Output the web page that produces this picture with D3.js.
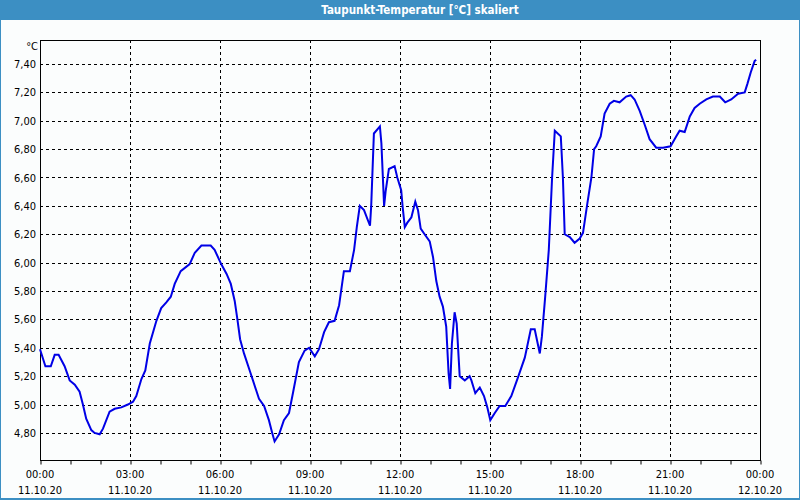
<!DOCTYPE html>
<html><head><meta charset="utf-8">
<script src="https://cdn.jsdelivr.net/npm/d3@7"></script>
<style>
html,body{margin:0;padding:0;background:#fff;}
svg{display:block;}
</style></head>
<body>
<svg id="chart" width="800" height="500"></svg>
<script>
// Hours since 11.10.20 00:00
const hours = [0.0,0.18,0.36,0.49,0.62,0.82,0.99,1.16,1.32,1.43,1.54,1.71,1.82,1.99,2.1,2.32,2.49,2.71,2.93,3.1,3.21,3.38,3.51,3.66,3.88,4.04,4.21,4.36,4.49,4.69,4.99,5.16,5.38,5.69,5.82,6.04,6.22,6.36,6.49,6.58,6.67,6.8,7.02,7.3,7.47,7.63,7.74,7.82,7.97,8.13,8.3,8.44,8.63,8.82,8.97,9.16,9.3,9.47,9.63,9.82,9.97,10.13,10.33,10.47,10.56,10.66,10.8,11.0,11.04,11.13,11.33,11.38,11.47,11.52,11.63,11.82,11.91,12.04,12.09,12.16,12.24,12.38,12.51,12.6,12.69,12.82,12.99,13.1,13.21,13.32,13.43,13.54,13.62,13.67,13.73,13.82,13.89,13.99,14.16,14.32,14.38,14.51,14.66,14.8,14.91,15.01,15.16,15.32,15.51,15.71,15.93,16.16,16.36,16.49,16.66,16.73,16.84,16.96,17.07,17.16,17.36,17.43,17.49,17.66,17.82,17.99,18.1,18.24,18.38,18.47,18.54,18.69,18.82,18.99,19.13,19.32,19.54,19.69,19.82,19.99,20.16,20.32,20.54,20.77,21.02,21.21,21.32,21.49,21.66,21.82,21.99,22.21,22.43,22.66,22.84,23.04,23.27,23.49,23.58,23.69,23.82,23.87];
const dewpoint = [5.39,5.27,5.27,5.35,5.35,5.27,5.17,5.14,5.09,5.0,4.9,4.82,4.80,4.79,4.83,4.95,4.97,4.98,5.0,5.02,5.06,5.18,5.24,5.43,5.59,5.68,5.72,5.76,5.85,5.94,5.99,6.07,6.12,6.12,6.09,5.99,5.92,5.85,5.73,5.60,5.46,5.36,5.22,5.04,4.99,4.89,4.80,4.74,4.79,4.89,4.94,5.09,5.30,5.38,5.40,5.34,5.39,5.51,5.58,5.59,5.70,5.94,5.94,6.09,6.25,6.40,6.37,6.26,6.40,6.91,6.96,6.84,6.40,6.50,6.66,6.68,6.60,6.51,6.39,6.25,6.28,6.32,6.43,6.37,6.24,6.20,6.15,6.04,5.87,5.76,5.69,5.55,5.22,5.11,5.43,5.65,5.57,5.20,5.17,5.20,5.17,5.08,5.12,5.06,4.98,4.89,4.94,4.99,4.99,5.06,5.19,5.33,5.53,5.53,5.36,5.48,5.76,6.09,6.60,6.93,6.89,6.60,6.20,6.18,6.14,6.17,6.21,6.41,6.60,6.80,6.82,6.89,7.05,7.12,7.14,7.13,7.17,7.18,7.15,7.07,6.97,6.87,6.81,6.81,6.82,6.89,6.93,6.92,7.03,7.09,7.12,7.15,7.17,7.17,7.13,7.15,7.19,7.20,7.26,7.34,7.42,7.43];
const yTicks = [4.8,5.0,5.2,5.4,5.6,5.8,6.0,6.2,6.4,6.6,6.8,7.0,7.2,7.4];
const xMajor = [0,3,6,9,12,15,18,21,24];
const xTimeLabels = ["00:00","03:00","06:00","09:00","12:00","15:00","18:00","21:00","00:00"];
const xDateLabels = ["11.10.20","11.10.20","11.10.20","11.10.20","11.10.20","11.10.20","11.10.20","11.10.20","12.10.20"];
const titleText = "Taupunkt-Temperatur [°C] skaliert";
const unitText = "°C";

const W = 800, H = 500;
const svg = d3.select("#chart");
const font = "Tahoma, 'DejaVu Sans Condensed', 'DejaVu Sans', sans-serif";

// frame
svg.append("rect").attr("x",0).attr("y",0).attr("width",W).attr("height",H).attr("fill","#3c8fc3");
svg.append("rect").attr("x",1).attr("y",20).attr("width",W-2).attr("height",H-22).attr("fill","#fbfdfd");
svg.append("text").attr("x",420).attr("y",14).attr("text-anchor","middle")
  .attr("fill","#ffffff").attr("font-family",font).attr("font-weight","bold").attr("font-size","11.5px")
  .text(titleText);

const L = 40, R = 760, T = 40, B = 460;
const x = d3.scaleLinear().domain([0,24]).range([L,R]);
const y = d3.scaleLinear().domain([4.609,7.569]).range([B,T]);

// grid horizontal
svg.append("g").selectAll("line").data(yTicks).join("line")
  .attr("x1",L).attr("x2",R).attr("y1",d=>Math.round(y(d))+0.5).attr("y2",d=>Math.round(y(d))+0.5)
  .attr("stroke","#000").attr("stroke-width",1).attr("stroke-dasharray","3,3");
// grid vertical
svg.append("g").selectAll("line").data(xMajor.slice(1,-1)).join("line")
  .attr("y1",T).attr("y2",B).attr("x1",d=>Math.round(x(d))+0.5).attr("x2",d=>Math.round(x(d))+0.5)
  .attr("stroke","#000").attr("stroke-width",1).attr("stroke-dasharray","3,3");

// x axis with minor ticks
const xAxisMinor = d3.axisBottom(x).tickValues(d3.range(0,25,1)).tickSize(4).tickFormat("");
const gx = svg.append("g").attr("transform",`translate(0.5,${B+0.5})`).call(xAxisMinor);
gx.select(".domain").remove();
gx.selectAll("line").attr("stroke","#000");

// y labels
const yAxis = d3.axisLeft(y).tickValues(yTicks).tickSize(0).tickPadding(4)
  .tickFormat(d=>d3.format(".2f")(d).replace(".",","));
const gy = svg.append("g").attr("transform",`translate(${L},0)`).call(yAxis);
gy.select(".domain").remove();
gy.selectAll("text").attr("font-family",font).attr("font-size","11px").attr("fill","#000");

// x labels
const gl = svg.append("g");
gl.selectAll("text.t").data(xMajor).join("text").attr("class","t")
  .attr("x",(d)=>x(d)).attr("y",478).attr("text-anchor","middle")
  .attr("font-family",font).attr("font-size","11px").attr("fill","#000")
  .text((d,i)=>xTimeLabels[i]);
gl.selectAll("text.d").data(xMajor).join("text").attr("class","d")
  .attr("x",(d)=>x(d)).attr("y",494).attr("text-anchor","middle")
  .attr("font-family",font).attr("font-size","11px").attr("fill","#000")
  .text((d,i)=>xDateLabels[i]);

svg.append("text").attr("x",38).attr("y",50).attr("text-anchor","end")
  .attr("font-family",font).attr("font-size","11px").attr("fill","#000").text(unitText);

// border
svg.append("rect").attr("x",L+0.5).attr("y",T+0.5).attr("width",R-L).attr("height",B-T)
  .attr("fill","none").attr("stroke","#000").attr("stroke-width",1);

// line
const data = hours.map((h,i)=>[h,dewpoint[i]]);
svg.append("path").datum(data)
  .attr("fill","none").attr("stroke","#0000e6").attr("stroke-width",2)
  .attr("d", d3.line().x(d=>x(d[0])).y(d=>y(d[1])));
</script>
</body></html>
